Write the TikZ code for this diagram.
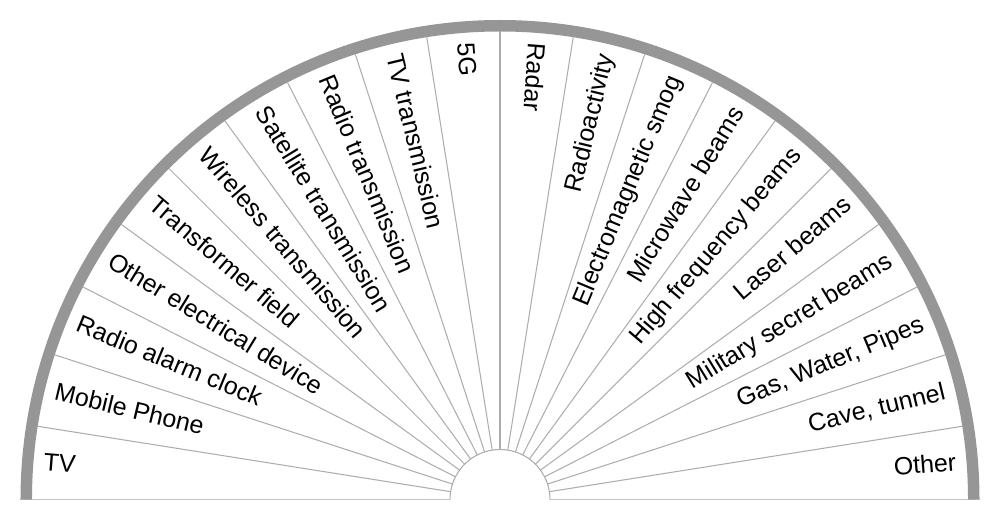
\documentclass[tikz,border=0pt]{standalone}
\usepackage{fontspec}
\setmainfont{Liberation Sans}
\usetikzlibrary{positioning}
\definecolor{rimgray}{HTML}{969696}
\definecolor{spokegray}{HTML}{ADADAD}
\definecolor{basegray}{HTML}{C3C3C3}

\begin{document}
\begin{tikzpicture}[x=0.02cm, y=0.02cm,
  rim/.style={draw=rimgray, line width=0.23cm},
  spoke/.style={draw=spokegray, line width=0.6pt},
  base/.style={draw=basegray, line width=1.1pt},
  lbl/.style={inner sep=0pt, text height=0.8em, text depth=0pt, font=\fontsize{14.2}{17}\selectfont}]

  \useasboundingbox (-500,-11.5) rectangle (500,499.5);

  \foreach \k in {1,...,19}
    \draw[spoke] (9*\k:50) -- (9*\k:468);
  \draw[spoke] (50,0) arc (0:180:50);
  \draw[base] (-480,0) -- (-50,0);
  \draw[base] (50,0) -- (480,0);
  \draw[rim] (473.75,0) arc (0:180:473.75);

  \foreach \txt [count=\i from 0] in {TV, Mobile Phone, Radio alarm clock,
      Other electrical device, Transformer field, Wireless transmission,
      Satellite transmission, Radio transmission, TV transmission, 5G, Radar,
      Radioactivity, Electromagnetic smog, Microwave beams, High frequency beams,
      Laser beams, Military secret beams, {Gas, Water, Pipes}, {Cave, tunnel}, Other}{
    \pgfmathsetmacro\a{175.5-9*\i}
    \ifnum\i<11
      \node[lbl, anchor=west, rotate=\a+180] (item\i) at (\a:458) {\txt};
    \else
      \node[lbl, anchor=east, rotate=\a] (item\i) at (\a:458) {\txt};
    \fi
  }
\end{tikzpicture}
\end{document}
